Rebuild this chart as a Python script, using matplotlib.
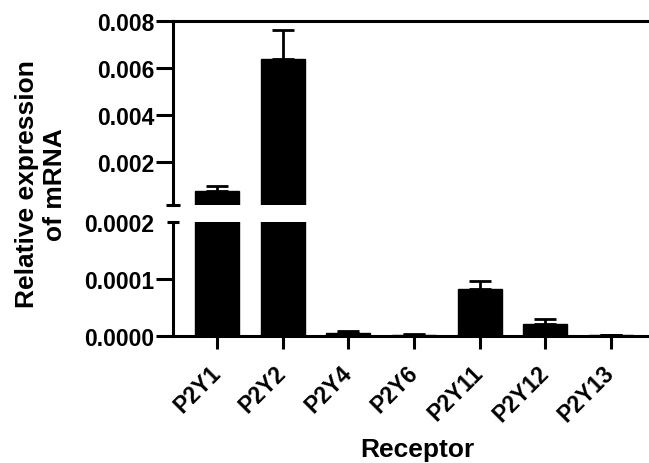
import matplotlib
matplotlib.use("Agg")
import matplotlib.pyplot as plt
import numpy as np

plt.rcParams['font.family'] = ['Liberation Sans', 'DejaVu Sans']
plt.rcParams['font.weight'] = 'bold'

receptors = ['P2Y1', 'P2Y2', 'P2Y4', 'P2Y6', 'P2Y11', 'P2Y12', 'P2Y13']
means = [0.00075, 0.0064, 0.000006, 0.0000025, 0.000082, 0.000021, 0.000002]
errs = [0.00024, 0.0012, 0.0000025, 0.0000008, 0.0000155, 0.0000095, 0.0000006]

upper_ticks = [0.002, 0.004, 0.006, 0.008]
upper_labels = ['0.002', '0.004', '0.006', '0.008']
lower_ticks = [0.0, 0.0001, 0.0002]
lower_labels = ['0.0000', '0.0001', '0.0002']

lw = 2.2
fs_tick = 16.5
fs_lab = 19
hi_bottom = 0.00016

fig = plt.figure(figsize=(6.49, 4.64), dpi=100)
ax_hi = fig.add_axes([0.2666, 0.556, 0.7334, 0.3966])
ax_lo = fig.add_axes([0.2666, 0.273, 0.7334, 0.2464])

x = np.arange(len(receptors))
m = np.array(means)
e = np.array(errs)

for ax in (ax_hi, ax_lo):
    ax.bar(x, m, width=0.67, color='black', edgecolor='black')
    ax.set_xlim(-0.67, 6.58)
    ax.spines['right'].set_visible(False)
    for s in ax.spines.values():
        s.set_linewidth(lw)
    ax.tick_params(axis='y', direction='out', length=12, width=lw, pad=1.5,
                   labelsize=fs_tick)

# error bars, upward only; the upper panel only gets the bars that reach it
show = m > hi_bottom
ax_hi.errorbar(x[show], m[show], yerr=[np.zeros(show.sum()), e[show]], fmt='none',
               ecolor='black', elinewidth=2, capsize=8, capthick=2)
ax_lo.errorbar(x, m, yerr=[np.zeros(len(x)), e], fmt='none', ecolor='black',
               elinewidth=2, capsize=8, capthick=2)

ax_hi.set_ylim(hi_bottom, 0.008)
ax_hi.set_yticks(upper_ticks)
ax_hi.set_yticklabels(upper_labels)
ax_hi.spines['bottom'].set_visible(False)
ax_hi.set_xticks([])

ax_lo.set_ylim(0, 0.0002)
ax_lo.set_yticks(lower_ticks)
ax_lo.set_yticklabels(lower_labels)
ax_lo.spines['top'].set_visible(False)
ax_lo.yaxis.get_major_ticks()[2].tick1line.set_visible(False)
ax_lo.set_xticks(x)
ax_lo.set_xticklabels(receptors, rotation=45, ha='right', va='center',
                      rotation_mode='anchor', fontsize=fs_tick)
ax_lo.tick_params(axis='x', direction='out', length=9.5, width=lw, pad=14)

# break caps on the y axis
ax_hi.plot([-0.015, 0.015], [0, 0], transform=ax_hi.transAxes, color='black',
           lw=lw, clip_on=False, solid_capstyle='butt')
ax_lo.plot([-0.012, 0.012], [1, 1], transform=ax_lo.transAxes, color='black',
           lw=lw, clip_on=False, solid_capstyle='butt')

fig.text(0.063, 0.603, 'Relative expression\nof mRNA', rotation=90, ha='center',
         va='center', multialignment='center', fontsize=fs_lab, fontweight='bold',
         linespacing=1.25)
fig.text(0.6425, 0.03, 'Receptor', ha='center', va='center', fontsize=fs_lab,
         fontweight='bold')

fig.savefig('out.png', dpi=100)
